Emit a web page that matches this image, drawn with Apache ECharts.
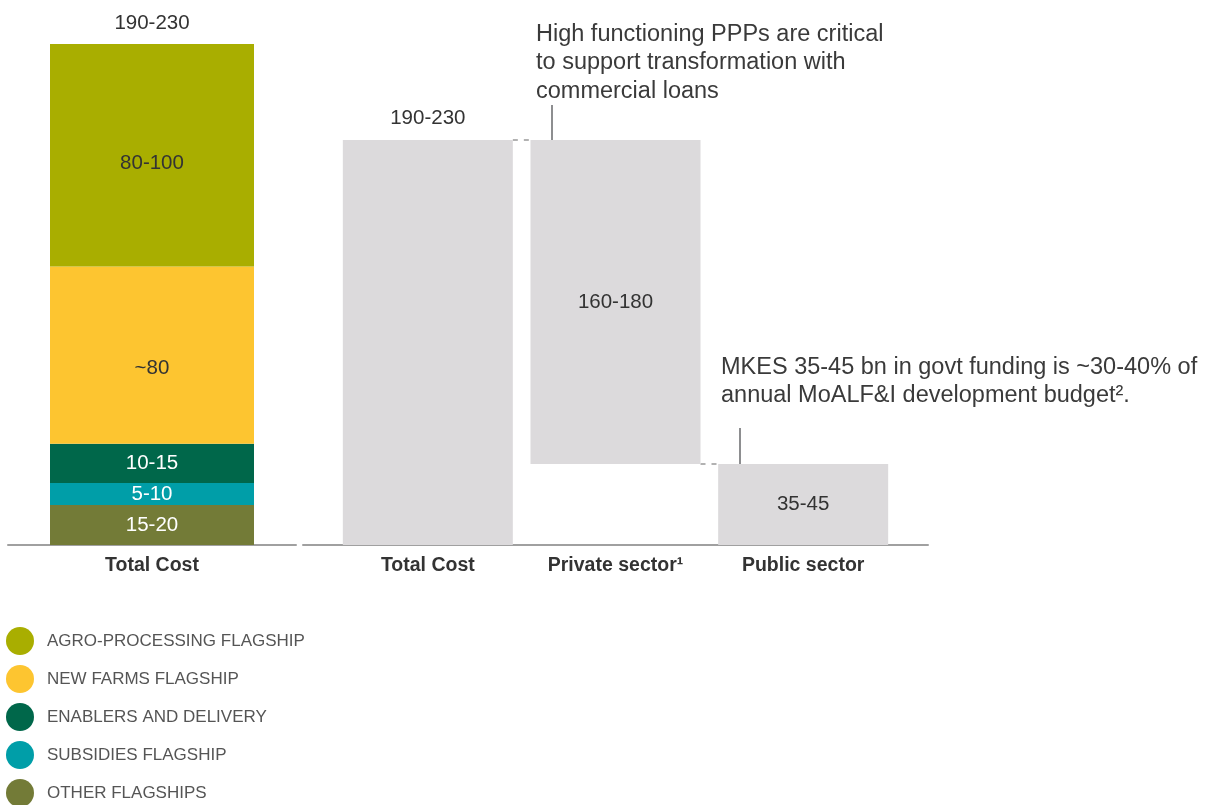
<!DOCTYPE html>
<html>
<head>
<meta charset="utf-8">
<script src="https://cdn.jsdelivr.net/npm/echarts@6/dist/echarts.min.js"></script>
<style>
html, body { margin: 0; padding: 0; background: #fff; }
#main { width: 1208px; height: 805px; }
</style>
</head>
<body>
<div id="main"></div>
<script>
// left panel: cost split by flagship, stacked bottom to top
var leftCategory = ['Total Cost'];
var flagshipNames = ['OTHER FLAGSHIPS', 'SUBSIDIES FLAGSHIP', 'ENABLERS AND DELIVERY', 'NEW FARMS FLAGSHIP', 'AGRO-PROCESSING FLAGSHIP'];
var flagshipValues = [16.8, 9.2, 16.4, 74.3, 93.3];
var flagshipLabels = ['15-20', '5-10', '10-15', '~80', '80-100'];
var totalLabel = '190-230';

// right panel: funding waterfall
var fundCategories = ['Total Cost', 'Private sector¹', 'Public sector'];
var fundValues = [210, 168, 42];
var fundBase = [0, 42, 0];
var fundLabels = ['190-230', '160-180', '35-45'];
// connectors: [from bar index, level]
var connectors = [[0, fundValues[0]], [1, fundBase[1]]];

// styles
var flagshipColors = ['#737b37', '#009ea8', '#00674a', '#fdc530', '#a9ae00'];
var flagshipTextColors = ['#fff', '#fff', '#fff', '#333', '#333'];
var flagshipLabelShift = [0, 0, 0, 13, 8];
var font = '"Liberation Sans", Arial, sans-serif';
var fundBarWidth = 170;

var leftTotal = 0;
for (var i = 0; i < flagshipValues.length; i++) leftTotal += flagshipValues[i];

var myChart = echarts.init(document.getElementById('main'));

var series = [];
for (var i = 0; i < flagshipNames.length; i++) {
  series.push({
    name: flagshipNames[i],
    type: 'bar',
    xAxisIndex: 0,
    yAxisIndex: 0,
    stack: 'cost',
    barWidth: 204,
    data: [flagshipValues[i]],
    itemStyle: { color: flagshipColors[i] },
    label: {
      show: true,
      position: 'inside',
      formatter: flagshipLabels[i],
      color: flagshipTextColors[i],
      fontSize: 20.5,
      offset: [0, flagshipLabelShift[i]]
    }
  });
}
// zero height bar only to carry the total label on top of the stack
series.push({
  name: 'total',
  type: 'bar',
  xAxisIndex: 0,
  yAxisIndex: 0,
  stack: 'cost',
  barWidth: 204,
  data: [0],
  itemStyle: { color: 'transparent' },
  label: { show: true, position: 'top', distance: 10, formatter: totalLabel, color: '#333', fontSize: 20.5 }
});

// waterfall: invisible base + visible bars
series.push({
  name: 'base',
  type: 'bar',
  xAxisIndex: 1,
  yAxisIndex: 1,
  stack: 'fund',
  barWidth: fundBarWidth,
  silent: true,
  data: fundBase,
  itemStyle: { color: 'transparent' }
});
series.push({
  name: 'funding',
  type: 'bar',
  xAxisIndex: 1,
  yAxisIndex: 1,
  stack: 'fund',
  barWidth: fundBarWidth,
  itemStyle: { color: '#dcdadc' },
  data: fundValues.map(function (v, k) {
    return {
      value: v,
      label: {
        show: true,
        position: k === 0 ? 'top' : 'inside',
        distance: 11,
        formatter: fundLabels[k],
        color: '#333',
        fontSize: 20.5
      }
    };
  })
});
// dashed connectors in the gaps between bars
series.push({
  name: 'connector',
  type: 'custom',
  xAxisIndex: 1,
  yAxisIndex: 1,
  silent: true,
  data: connectors,
  renderItem: function (params, api) {
    var a = api.coord([api.value(0), api.value(1)]);
    var b = api.coord([api.value(0) + 1, api.value(1)]);
    return {
      type: 'line',
      shape: { x1: a[0] + fundBarWidth / 2, y1: a[1], x2: b[0] - fundBarWidth / 2, y2: b[1] },
      style: { stroke: '#999', lineWidth: 1.5, lineDash: [5, 6] }
    };
  }
});

var axisLabelStyle = { fontSize: 19.5, fontWeight: 'bold', color: '#333', margin: 11 };

myChart.setOption({
  animation: false,
  textStyle: { fontFamily: font },
  legend: {
    data: flagshipNames.slice().reverse(),
    orient: 'vertical',
    left: 6,
    top: 627,
    height: 200,
    padding: 0,
    icon: 'circle',
    itemWidth: 28,
    itemHeight: 28,
    itemGap: 10,
    selectedMode: false,
    textStyle: { fontSize: 17, color: '#555', padding: [0, 0, 0, 8] }
  },
  grid: [
    { left: 8, width: 288, top: 44, bottom: 260 },
    { left: 334, width: 563, top: 140, bottom: 260 },
    { left: 303, width: 625, top: 140, bottom: 260 }
  ],
  xAxis: [
    {
      gridIndex: 0, type: 'category', data: leftCategory,
      axisLine: { lineStyle: { color: '#a0a0a0', width: 2 } },
      axisTick: { show: false }, axisLabel: axisLabelStyle
    },
    {
      gridIndex: 1, type: 'category', data: fundCategories,
      axisLine: { show: false }, axisTick: { show: false }, axisLabel: axisLabelStyle
    },
    {
      gridIndex: 2, type: 'category', data: [''],
      axisLine: { lineStyle: { color: '#a0a0a0', width: 2 } },
      axisTick: { show: false }, axisLabel: { show: false }
    }
  ],
  yAxis: [
    { gridIndex: 0, type: 'value', min: 0, max: leftTotal, show: false },
    { gridIndex: 1, type: 'value', min: 0, max: fundValues[0], show: false },
    { gridIndex: 2, type: 'value', show: false }
  ],
  series: series,
  graphic: [
    {
      type: 'text', left: 536, top: 20,
      style: {
        text: 'High functioning PPPs are critical\nto support transformation with\ncommercial loans',
        fontSize: 23.5, fontFamily: font, fill: '#3a3a3a', lineHeight: 28.5
      }
    },
    { type: 'line', shape: { x1: 552, y1: 105, x2: 552, y2: 172 }, style: { stroke: '#8d8e90', lineWidth: 2 } },
    { type: 'circle', shape: { cx: 552, cy: 177, r: 10 }, style: { fill: '#939598' } },
    {
      type: 'text', left: 721, top: 353,
      style: {
        text: 'MKES 35-45 bn in govt funding is ~30-40% of\nannual MoALF&I development budget².',
        fontSize: 23.5, fontFamily: font, fill: '#3a3a3a', lineHeight: 28.5
      }
    },
    { type: 'line', shape: { x1: 740, y1: 428, x2: 740, y2: 494 }, style: { stroke: '#8d8e90', lineWidth: 2 } },
    { type: 'circle', shape: { cx: 740, cy: 499, r: 10 }, style: { fill: '#939598' } }
  ]
});
</script>
</body>
</html>
